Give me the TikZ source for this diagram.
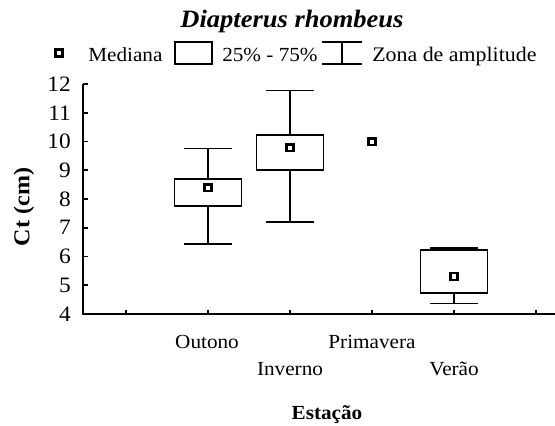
\documentclass[tikz,border=0pt]{standalone}
\usepackage{fontspec}
\setmainfont{Liberation Serif}[FakeStretch=1.06]

\begin{document}
\begin{tikzpicture}[x=0.75pt, y=0.75pt,
	every node/.style = {inner sep=0pt, font=\fontsize{15pt}{18pt}\selectfont},
	plotline/.style = {line width=1.2pt},
	boxpart/.style = {line width=1.2pt, fill=white},
	medmark/.style = {draw, rectangle, line width=1.8pt, fill=white, minimum size=5pt},
	boldlabel/.style = {font=\fontsize{15pt}{18pt}\selectfont\bfseries}]
	\useasboundingbox (0,0) rectangle (555,425);
	% title
	\node[anchor=base, font=\fontsize{18.75pt}{22pt}\selectfont\bfseries\itshape] (title) at (292,397) {Diapterus rhombeus};
	% legend
	\node[medmark] (lgmed) at (59,372) {};
	\node[anchor=base west] (lgmedtxt) at (88,363) {Mediana};
	\draw[plotline] (175,361) rectangle (212,383);
	\node[anchor=base west] (lgboxtxt) at (222,363) {25\% - 75\%};
	\draw[plotline] (322,383) -- (362,383) (342,383) -- (342,361) (322,361) -- (362,361);
	\node[anchor=base west, font=\fontsize{15.5pt}{18pt}\selectfont] (lgwhtxt) at (372,363) {Zona de amplitude};
	% axes and boxes
	\begin{scope}[shift={(126,-4)}, x=61.5pt, y=21.5625pt]
		\draw[plotline] (-0.524,12) -- (-0.524,4) -- (5.24,4);
		\foreach \v in {4,...,12} {
			\draw[plotline] (-0.524,\v) -- ++(3.75pt,0);
			\node[left=9pt, font=\fontsize{16.5pt}{18pt}\selectfont] (ylab\v) at (-0.524,\v) {\v};
		}
		\foreach \k in {0,...,5}
			\draw[plotline] (\k,4) -- ++(0,3pt);
		% Outono
		\draw[plotline] (1,6.43) -- (1,9.76);
		\draw[plotline] (0.71,6.43) -- (1.29,6.43) (0.71,9.76) -- (1.29,9.76);
		\draw[boxpart] (0.59,7.76) rectangle (1.41,8.70);
		\node[medmark] (medout) at (1,8.39) {};
		% Inverno
		\draw[plotline] (2,7.21) -- (2,11.77);
		\draw[plotline] (1.71,7.21) -- (2.29,7.21) (1.71,11.77) -- (2.29,11.77);
		\draw[boxpart] (1.59,9.01) rectangle (2.41,10.23);
		\node[medmark] (medinv) at (2,9.78) {};
		% Primavera
		\node[medmark] (medpri) at (3,9.99) {};
		% Verao
		\draw[plotline] (4,4.36) -- (4,6.29);
		\draw[plotline] (3.71,4.36) -- (4.29,4.36) (3.71,6.29) -- (4.29,6.29);
		\draw[boxpart] (3.59,4.74) rectangle (4.41,6.23);
		\node[medmark] (medver) at (4,5.30) {};
	\end{scope}
	% category and axis labels
	\node[anchor=base] (catout) at (207,77) {Outono};
	\node[anchor=base] (catpri) at (372,77) {Primavera};
	\node[anchor=base] (catinv) at (290,50) {Inverno};
	\node[anchor=base] (catver) at (454,50) {Verão};
	\node[anchor=base, boldlabel] (xtitle) at (327,5.5) {Estação};
	\node[rotate=90, boldlabel, font=\fontsize{17pt}{20pt}\selectfont\bfseries] (ytitle) at (24,218) {Ct (cm)};
\end{tikzpicture}
\end{document}
